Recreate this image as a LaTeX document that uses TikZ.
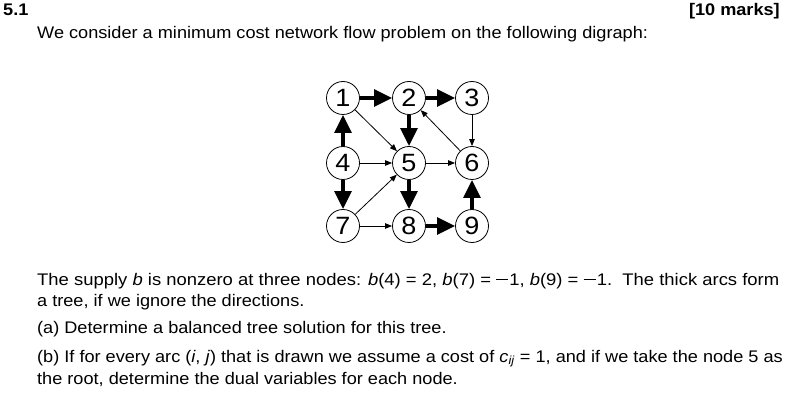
\documentclass[tikz,border=0pt]{standalone}
\usepackage{fontspec}
\setmainfont{Liberation Sans}[FakeStretch=1.08]
\usetikzlibrary{arrows.meta}
\newcommand\wminus{\raisebox{0.3em}{\rule{0.72em}{0.065em}}\hspace{0.05em}}
\begin{document}
\begin{tikzpicture}[x=1pt,y=-1pt,
  vtx/.style={draw,circle,line width=0.8pt,minimum size=33pt,inner sep=0pt,font=\fontsize{25}{25}\selectfont},
  thick arc/.style={line width=4pt,-{Triangle[length=18pt,width=16.5pt]}},
  thin arc/.style={line width=0.8pt,-{Triangle[length=7pt,width=5.5pt]}},
  txt/.style={anchor=base west,inner sep=0pt,font=\fontsize{16.8}{21}\selectfont}]
\useasboundingbox (0,0) rectangle (795,403);
\node[txt,font=\fontsize{16.8}{21}\selectfont\bfseries] (num) at (3,16) {5.1};
\node[txt,anchor=base east,font=\fontsize{16.8}{21}\selectfont\bfseries] (marks) at (780,16) {[10 marks]};
\node[txt] (intro) at (37,38.5) {We consider a minimum cost network flow problem on the following digraph:};
% nodes
\node[vtx] (n1) at (343,98) {1};
\node[vtx] (n2) at (409,98) {2};
\node[vtx] (n3) at (472,98) {3};
\node[vtx] (n4) at (343,163) {4};
\node[vtx] (n5) at (409,163) {5};
\node[vtx] (n6) at (472,163) {6};
\node[vtx] (n7) at (343,226) {7};
\node[vtx] (n8) at (409,226) {8};
\node[vtx] (n9) at (472,226) {9};
% tree arcs
\draw[thick arc] (n1) -- (n2);
\draw[thick arc] (n2) -- (n3);
\draw[thick arc] (n2) -- (n5);
\draw[thick arc] (n4) -- (n1);
\draw[thick arc] (n4) -- (n7);
\draw[thick arc] (n5) -- (n8);
\draw[thick arc] (n8) -- (n9);
\draw[thick arc] (n9) -- (n6);
% other arcs
\draw[thin arc] (n1) -- (n5);
\draw[thin arc] (n3) -- (n6);
\draw[thin arc] (n6) -- (n2);
\draw[thin arc] (n4) -- (n5);
\draw[thin arc] (n5) -- (n6);
\draw[thin arc] (n7) -- (n5);
\draw[thin arc] (n7) -- (n8);
% text
\node[txt] (p1) at (37,285) {\resizebox{742pt}{\height}{The supply \textit{b} is nonzero at three nodes: \textit{b}(4) = 2, \textit{b}(7) = \wminus 1, \textit{b}(9) = \wminus 1.\ \ The thick arcs form}};
\node[txt] (p2) at (37,306) {a tree, if we ignore the directions.};
\node[txt] (pa) at (37,334) {(a) Determine a balanced tree solution for this tree.};
\node[txt] (pb) at (37,362) {(b) If for every arc (\textit{i}, \textit{j}) that is drawn we assume a cost of \textit{c}\textsubscript{\textit{ij}} = 1, and if we take the node 5 as};
\node[txt] (pc) at (37,384) {the root, determine the dual variables for each node.};
\end{tikzpicture}
\end{document}
